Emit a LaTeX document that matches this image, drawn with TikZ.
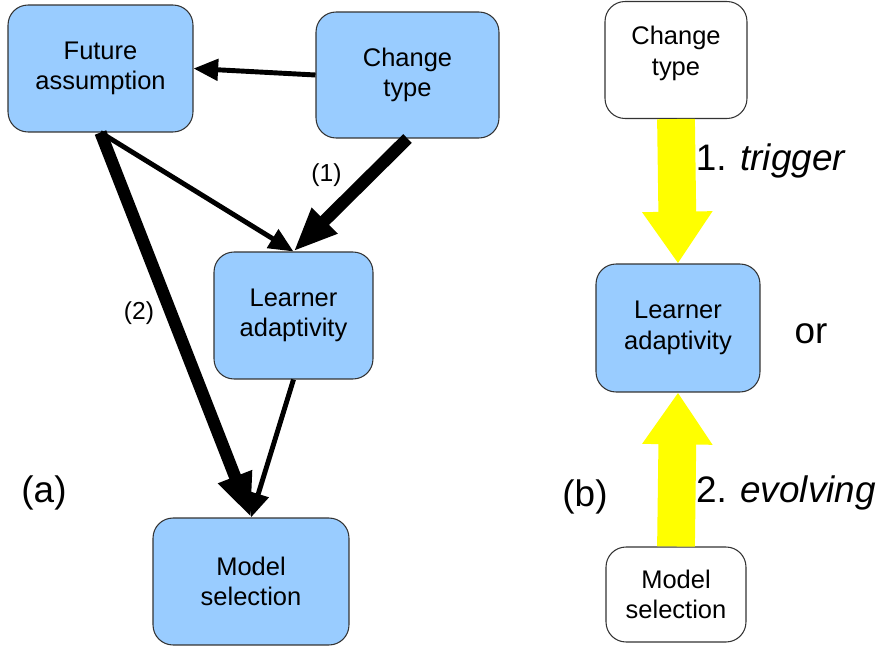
\documentclass[tikz,border=0pt]{standalone}
\usepackage{fontspec}
\setmainfont{Liberation Sans}
\usetikzlibrary{arrows.meta}
\definecolor{boxblue}{HTML}{99CCFF}
\definecolor{hiyellow}{HTML}{FFFF00}

\begin{document}
\begin{tikzpicture}[x=0.02cm, y=-0.02cm,
    every node/.style={font=\fontsize{14.5}{17.5}\selectfont, align=center},
    box/.style={rectangle, draw=black!80, line width=0.6pt, rounded corners=0.4cm, inner sep=0pt},
    thinarrow/.style={line width=2.8pt, -{Triangle[width=12pt,length=14pt]}},
    thickarrow/.style={line width=7pt, -{Triangle[width=19pt,length=25pt]}},
    bigarrow/.style={hiyellow, line width=21.5pt, -{Triangle[width=38pt,length=29.5pt]}},
    big/.style={font=\fontsize{21}{25}\selectfont, text=black}]
    \useasboundingbox (0,0) rectangle (876,649);

    % (a)
    \node[box, fill=boxblue, minimum width=3.7cm, minimum height=2.54cm] (FA) at (100.5, 68.5) {Future\\assumption};
    \node[box, fill=boxblue, minimum width=3.66cm, minimum height=2.52cm] (CT) at (407.5, 75) {Change\\type};
    \node[box, fill=boxblue, minimum width=3.18cm, minimum height=2.54cm] (LA) at (293.5, 315.5) {Learner\\adaptivity};
    \node[box, fill=boxblue, minimum width=3.92cm, minimum height=2.54cm] (MS) at (251, 581.5) {Model\\selection};
    \node[big] (a) at (44, 493) {(a)};

    \draw[thinarrow] (CT.west) -- (FA.east);
    \draw[thinarrow] (FA.south) -- (LA.north);
    \draw[thickarrow] (CT.south) -- node[pos=0.32, left=10pt, font=\fontsize{14}{17}\selectfont]{(1)} (LA.north); % trigger
    \draw[thickarrow] (FA.south) -- node[pos=0.47, left=3pt, font=\fontsize{14}{17}\selectfont]{(2)} (MS.north); % evolving
    \draw[thinarrow] (LA.south) -- (MS.north);

    % (b)
    \node[box, fill=white, minimum width=2.84cm, minimum height=2.34cm] (CT2) at (676, 60) {Change\\type\\[-7pt]\mbox{}};
    \node[box, fill=boxblue, minimum width=3.28cm, minimum height=2.56cm] (LA2) at (678, 328) {Learner\\adaptivity};
    \node[box, fill=white, minimum width=2.8cm, minimum height=1.9cm] (MS2) at (676, 594.5) {Model\\selection};
    \node[big] (or) at (811, 334) {or};
    \node[big] (b) at (585, 497) {(b)};

    \draw[bigarrow] (CT2.south) -- node[big, pos=0.29, anchor=west, inner sep=0pt, outer sep=0pt, xshift=11pt]{1. \textit{trigger}} (LA2.north);
    \draw[bigarrow] (MS2.north) -- node[big, pos=0.35, anchor=west, inner sep=0pt, outer sep=0pt, xshift=11pt]{2. \textit{evolving}} (LA2.south);
\end{tikzpicture}
\end{document}
